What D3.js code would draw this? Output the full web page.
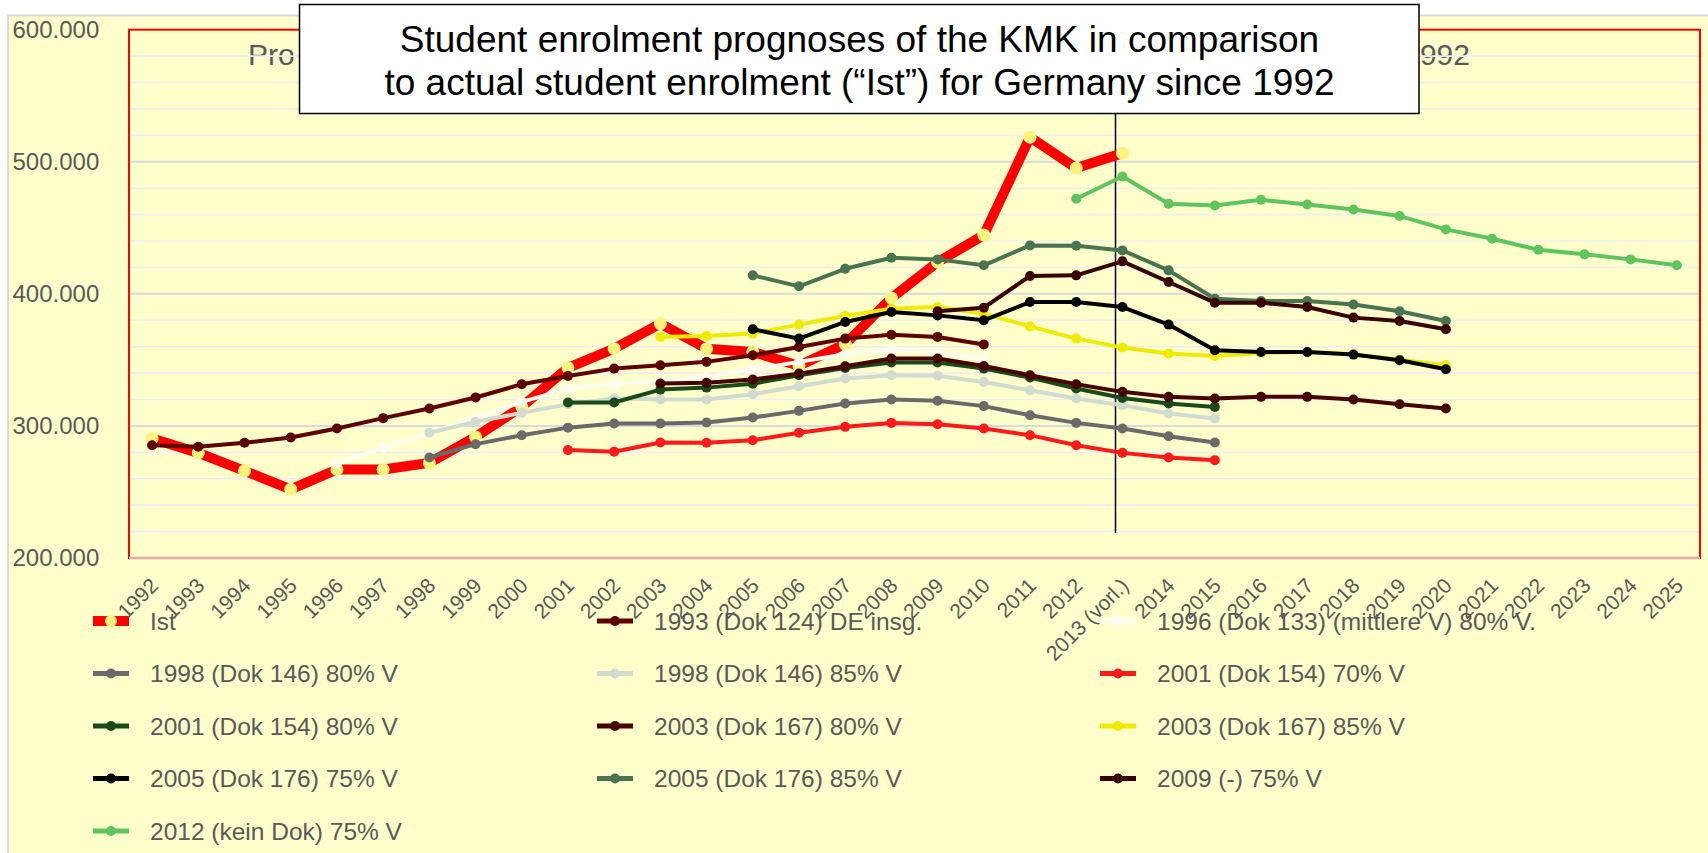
<!DOCTYPE html>
<html><head><meta charset="utf-8">
<script src="https://cdn.jsdelivr.net/npm/d3@7"></script>
<style>
body{margin:0;background:#fff;}
svg{display:block;font-family:"Liberation Sans",Arial,Helvetica,sans-serif;}
</style>
</head><body>
<svg id="chart" width="1708" height="853"></svg>
<script>
// ---------- DATA ----------
const categories = ["1992","1993","1994","1995","1996","1997","1998","1999","2000","2001","2002","2003","2004","2005","2006","2007","2008","2009","2010","2011","2012","2013 (vorl.)","2014","2015","2016","2017","2018","2019","2020","2021","2022","2023","2024","2025"];
const yTickValues = [200000,300000,400000,500000,600000];
const titleLines = ["Student enrolment prognoses of the KMK in comparison","to actual student enrolment (\u201cIst\u201d) for Germany since 1992"];
// visible fragments of the chart title that is hidden behind the text box
const hiddenTitleParts = ["Pro","992"];

const ist        = [290500,279600,266000,252000,267000,267000,272000,291700,314500,344000,358500,377400,358500,356000,345500,362000,396800,424000,444500,518600,495200,506500]; // from 1992
const dok124     = [285400,284200,287200,291200,298000,305900,313200,321500,331600,337800,343400,346000,348500,353500,359800,366100,369100,367400,361600]; // from 1992
const dok133     = [271600,283400,294500,305600,318200,328000,332000,334000,337100,342700,348500,354300,358000,356000,351000]; // from 1996
const dok146v80  = [276100,286200,293000,298700,301800,301800,302600,306400,311400,317000,320000,319000,315000,308100,302300,298000,292200,287500]; // from 1998
const dok146v85  = [294800,303100,309900,316400,320700,320000,320000,324000,330000,335900,338400,338000,333300,327000,320700,315700,309400,305600]; // from 1998
const dok154v70  = [281700,280400,287500,287300,289200,294800,299300,302300,301300,298000,293000,285400,279600,276100,274100]; // from 2001
const dok154v80  = [317700,317700,327500,329000,332000,338400,343900,348000,348000,343400,336600,328300,321200,317000,314400]; // from 2001
const dok167v80  = [332100,332600,335100,339600,345200,351000,351000,345400,338400,331600,325800,322000,320700,322000,322000,320000,316400,313200]; // from 2003
const dok167v85  = [367400,368100,369900,376700,383200,388800,390000,385000,375400,366100,359300,354800,353000,355300,356000,354000,350200,346000]; // from 2003
const dok176v75  = [373200,366100,378700,386300,383700,380000,393800,393800,390000,376700,357300,356000,356000,354000,349700,342900]; // from 2005
const dok176v85  = [414000,405700,419000,427300,426100,421600,436700,436400,432900,417800,396300,394600,394600,392000,386800,379500]; // from 2005
const v2009      = [386800,389500,413500,414000,424600,409000,393300,393300,390000,382000,379500,373200]; // from 2009
const v2012      = [472000,488800,468200,466900,471200,467700,463900,458900,448800,441700,433400,429900,426100,421600]; // from 2012

const series = [
  {name:"Ist", start:"1992", values:ist, color:"#ff0000", marker:"#fbf47c", width:10, r:6.5},
  {name:"1993 (Dok 124) DE insg.", start:"1992", values:dok124, color:"#5e0000", marker:"#5e0000", width:4, r:5},
  {name:"1996 (Dok 133) (mittlere V) 80% V.", start:"1996", values:dok133, color:"#fbfbef", marker:"#fbfbef", width:4, r:5},
  {name:"1998 (Dok 146) 80% V", start:"1998", values:dok146v80, color:"#6a6a6a", marker:"#6a6a6a", width:4, r:5},
  {name:"1998 (Dok 146) 85% V", start:"1998", values:dok146v85, color:"#cfdccf", marker:"#cfdccf", width:4, r:5},
  {name:"2001 (Dok 154) 70% V", start:"2001", values:dok154v70, color:"#ff1a1a", marker:"#ff1a1a", width:4, r:5},
  {name:"2001 (Dok 154) 80% V", start:"2001", values:dok154v80, color:"#1a4a1a", marker:"#1a4a1a", width:4, r:5},
  {name:"2003 (Dok 167) 80% V", start:"2003", values:dok167v80, color:"#480202", marker:"#480202", width:4, r:5},
  {name:"2003 (Dok 167) 85% V", start:"2003", values:dok167v85, color:"#efeb00", marker:"#efeb00", width:4, r:5},
  {name:"2005 (Dok 176) 75% V", start:"2005", values:dok176v75, color:"#000000", marker:"#000000", width:4, r:5},
  {name:"2005 (Dok 176) 85% V", start:"2005", values:dok176v85, color:"#4a7450", marker:"#4a7450", width:4, r:5},
  {name:"2009 (-) 75% V", start:"2009", values:v2009, color:"#3a0000", marker:"#3a0000", width:4, r:5},
  {name:"2012 (kein Dok) 75% V", start:"2012", values:v2012, color:"#5ec55e", marker:"#5ec55e", width:4, r:5}
];

// ---------- LAYOUT ----------
const svg = d3.select("#chart");
const plot = {left:129, right:1700, top:29.7, bottom:558};
const x = d3.scalePoint().domain(categories).range([plot.left, plot.right]).padding(0.5);
const y = d3.scaleLinear().domain([200000,600000]).range([plot.bottom, plot.top]);
const grey = "#595959";

// chart area background
svg.append("rect").attr("x",8).attr("y",15.5).attr("width",1712).attr("height",850)
  .attr("fill","#ffffcc").attr("stroke","#d9d9d9").attr("stroke-width",2);

// chart title fragments visible around the text box
svg.append("text").attr("x",248).attr("y",65).attr("font-size",30).attr("fill",grey)
  .attr("text-anchor","start").text(hiddenTitleParts[0]);
svg.append("text").attr("x",1470).attr("y",65).attr("font-size",30).attr("fill",grey)
  .attr("text-anchor","end").text(hiddenTitleParts[1]);

// gridlines
const minor = d3.range(220000,600000,20000);
svg.append("g").selectAll("line").data(minor).join("line")
  .attr("x1",plot.left).attr("x2",plot.right)
  .attr("y1",d=>y(d)).attr("y2",d=>y(d))
  .attr("stroke",d=> d%100000===0 ? "#d9d9de" : "#eeeef0")
  .attr("stroke-width",d=> d%100000===0 ? 2 : 1.6);

// plot border
svg.append("rect").attr("x",plot.left).attr("y",plot.top)
  .attr("width",plot.right-plot.left).attr("height",plot.bottom-plot.top)
  .attr("fill","none").attr("stroke","#ff0000").attr("stroke-width",2);
svg.append("line").attr("x1",plot.left).attr("x2",plot.right).attr("y1",plot.bottom).attr("y2",plot.bottom)
  .attr("stroke","#eaa9a4").attr("stroke-width",2.5);

// y axis labels
const fmt = v => d3.format(",")(v).replace(/,/g,".");
const yAxis = d3.axisLeft(y).tickValues(yTickValues).tickFormat(fmt).tickSize(0);
const yg = svg.append("g").attr("transform",`translate(${plot.left},0)`).call(yAxis);
yg.select(".domain").remove();
yg.selectAll("text").attr("x",12.5-plot.left).attr("text-anchor","start")
  .attr("font-size",24).attr("fill",grey).attr("font-family",null);

// x axis labels
const xAxis = d3.axisBottom(x).tickSize(0);
const xg = svg.append("g").attr("transform",`translate(0,${plot.bottom})`).call(xAxis);
xg.select(".domain").remove();
xg.selectAll("text").attr("font-size",21).attr("fill",grey).attr("font-family",null)
  .attr("text-anchor","end").attr("dy",null).attr("y",0)
  .attr("transform","translate(7,29) rotate(-45)");

// vertical separator line
svg.append("line").attr("x1",1115.5).attr("x2",1115.5).attr("y1",100).attr("y2",533)
  .attr("stroke","#000").attr("stroke-width",1.5);

// series
const line = d3.line().x(d=>x(d.cat)).y(d=>y(d.v)).curve(d3.curveLinear);
series.forEach(s=>{
  const si = categories.indexOf(s.start);
  const pts = s.values.map((v,i)=>({cat:categories[si+i], v}));
  const g = svg.append("g");
  g.append("path").datum(pts).attr("d",line).attr("fill","none")
    .attr("stroke",s.color).attr("stroke-width",s.width)
    .attr("stroke-linejoin","round").attr("stroke-linecap","round");
  g.selectAll("circle").data(pts).join("circle")
    .attr("cx",d=>x(d.cat)).attr("cy",d=>y(d.v)).attr("r",s.r).attr("fill",s.marker);
});

// legend
const colX = [93, 597, 1100];
const rowY0 = 621, rowH = 52.5;
const lg = svg.append("g");
series.forEach((s,i)=>{
  const cx0 = colX[i%3], cy = rowY0 + Math.floor(i/3)*rowH;
  const g = lg.append("g");
  g.append("line").attr("x1",cx0).attr("x2",cx0+36).attr("y1",cy).attr("y2",cy)
    .attr("stroke",s.color).attr("stroke-width",s.width===10?10:5);
  g.append("circle").attr("cx",cx0+18).attr("cy",cy).attr("r",s.width===10?6:5).attr("fill",s.marker);
  g.append("text").attr("x",cx0+57).attr("y",cy+8.5).attr("font-size",24.5).attr("fill",grey).text(s.name);
});

// title box
svg.append("rect").attr("x",299.5).attr("y",4.5).attr("width",1119.5).attr("height",109)
  .attr("fill","#fff").attr("stroke","#000").attr("stroke-width",1.5);
svg.append("g").selectAll("text").data(titleLines).join("text")
  .attr("x",859.5).attr("y",(d,i)=>52+i*43).attr("text-anchor","middle")
  .attr("font-size",37).attr("fill","#000").text(d=>d);
</script>
</body></html>
